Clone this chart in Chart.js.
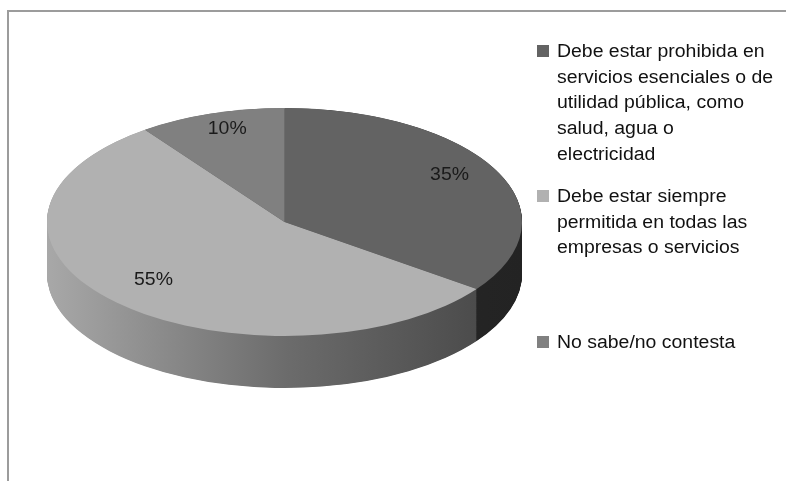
<!DOCTYPE html>
<html>
<head>
<meta charset="utf-8">
<script src="https://cdn.jsdelivr.net/npm/chart.js@4.4.1/dist/chart.umd.min.js"></script>
<style>
  body { margin: 0; background: #fff; }
  #wrap { width: 786px; height: 481px; }
</style>
</head>
<body>
<div id="wrap"><canvas id="huelgaPie" width="786" height="481"></canvas></div>
<script>
// ---- data ----
var categories = [
    ['Debe estar prohibida en', 'servicios esenciales o de', 'utilidad pública, como', 'salud, agua o', 'electricidad'],
    ['Debe estar siempre', 'permitida en todas las', 'empresas o servicios'],
    ['No sabe/no contesta']
];
var shares = [35, 55, 10];

// ---- look ----
var topColors = ['#636363', '#b1b1b1', '#808080'];
var sideColors = [['#303030', '#232323'], ['#a8a8a8', '#6c6c6c', '#444444'], ['#6a6a6a', '#5a5a5a']];
var TILT = 0.48;      // vertical squash of the disc
var DEPTH = 52;       // px height of the side wall
var TOP_Y = 222;      // screen y of disc centre
var FONT = '18px "Liberation Sans", Arial, sans-serif';
var STRETCH = 1.08;   // text is a bit wider than Arial

function drawText(ctx, t, x, y) {
    ctx.save();
    ctx.translate(x, y);
    ctx.scale(STRETCH, 1);
    ctx.fillText(t, 0, 0);
    ctx.restore();
}

var pie3d = {
    id: 'pie3d',
    beforeDraw: function (chart) {
        var ctx = chart.ctx;
        ctx.save();
        ctx.strokeStyle = '#9c9c9c';
        ctx.lineWidth = 2;
        ctx.beginPath();
        ctx.moveTo(8, 481);
        ctx.lineTo(8, 11);
        ctx.lineTo(786, 11);
        ctx.stroke();
        ctx.restore();
    },
    beforeDatasetsDraw: function (chart) {
        var ctx = chart.ctx;
        var arcs = chart.getDatasetMeta(0).data;
        var cx = arcs[0].x, cy = arcs[0].y, r = arcs[0].outerRadius;
        ctx.save();
        ctx.translate(cx, TOP_Y);
        ctx.scale(1, TILT);
        ctx.translate(-cx, -cy);
        // side wall: stacked copies of each slice, deepest first
        var grads = sideColors.map(function (stops) {
            var g = ctx.createLinearGradient(cx - r, 0, cx + r, 0);
            stops.forEach(function (c, i) { g.addColorStop(i / (stops.length - 1), c); });
            return g;
        });
        for (var d = DEPTH / TILT; d > 0; d -= 1) {
            arcs.forEach(function (a, i) {
                ctx.beginPath();
                ctx.moveTo(a.x, a.y + d);
                ctx.arc(a.x, a.y + d, a.outerRadius, a.startAngle, a.endAngle);
                ctx.closePath();
                ctx.fillStyle = grads[i];
                ctx.fill();
            });
        }
    },
    afterDatasetsDraw: function (chart) {
        var ctx = chart.ctx;
        ctx.restore();
        var arcs = chart.getDatasetMeta(0).data;
        ctx.save();
        ctx.font = FONT;
        ctx.fillStyle = '#1a1a1a';
        ctx.textAlign = 'center';
        ctx.textBaseline = 'middle';
        arcs.forEach(function (a, i) {
            var mid = (a.startAngle + a.endAngle) / 2;
            var x = a.x + Math.cos(mid) * a.outerRadius * 0.78;
            var y = TOP_Y + Math.sin(mid) * a.outerRadius * 0.8 * TILT - 6;
            drawText(ctx, shares[i] + '%', x, y);
        });
        ctx.restore();
    },
    afterDraw: function (chart) {
        var ctx = chart.ctx;
        var itemTops = [57, 202, 348];
        ctx.save();
        ctx.font = FONT;
        ctx.textAlign = 'left';
        ctx.textBaseline = 'alphabetic';
        categories.forEach(function (lines, i) {
            ctx.fillStyle = topColors[i];
            ctx.fillRect(537, itemTops[i] - 12, 12, 12);
            ctx.fillStyle = '#111';
            lines.forEach(function (t, j) {
                drawText(ctx, t, 557, itemTops[i] + j * 25.7);
            });
        });
        ctx.restore();
    }
};

new Chart(document.getElementById('huelgaPie').getContext('2d'), {
    type: 'pie',
    data: {
        labels: categories,
        datasets: [{
            data: shares,
            backgroundColor: topColors,
            borderWidth: 0,
            hoverOffset: 0,
            clip: false
        }]
    },
    options: {
        responsive: false,
        animation: false,
        events: [],
        layout: { padding: { left: 47, right: 264, top: 3, bottom: 3 } },
        plugins: {
            legend: { display: false },
            tooltip: { enabled: false }
        }
    },
    plugins: [pie3d]
});
</script>
</body>
</html>
